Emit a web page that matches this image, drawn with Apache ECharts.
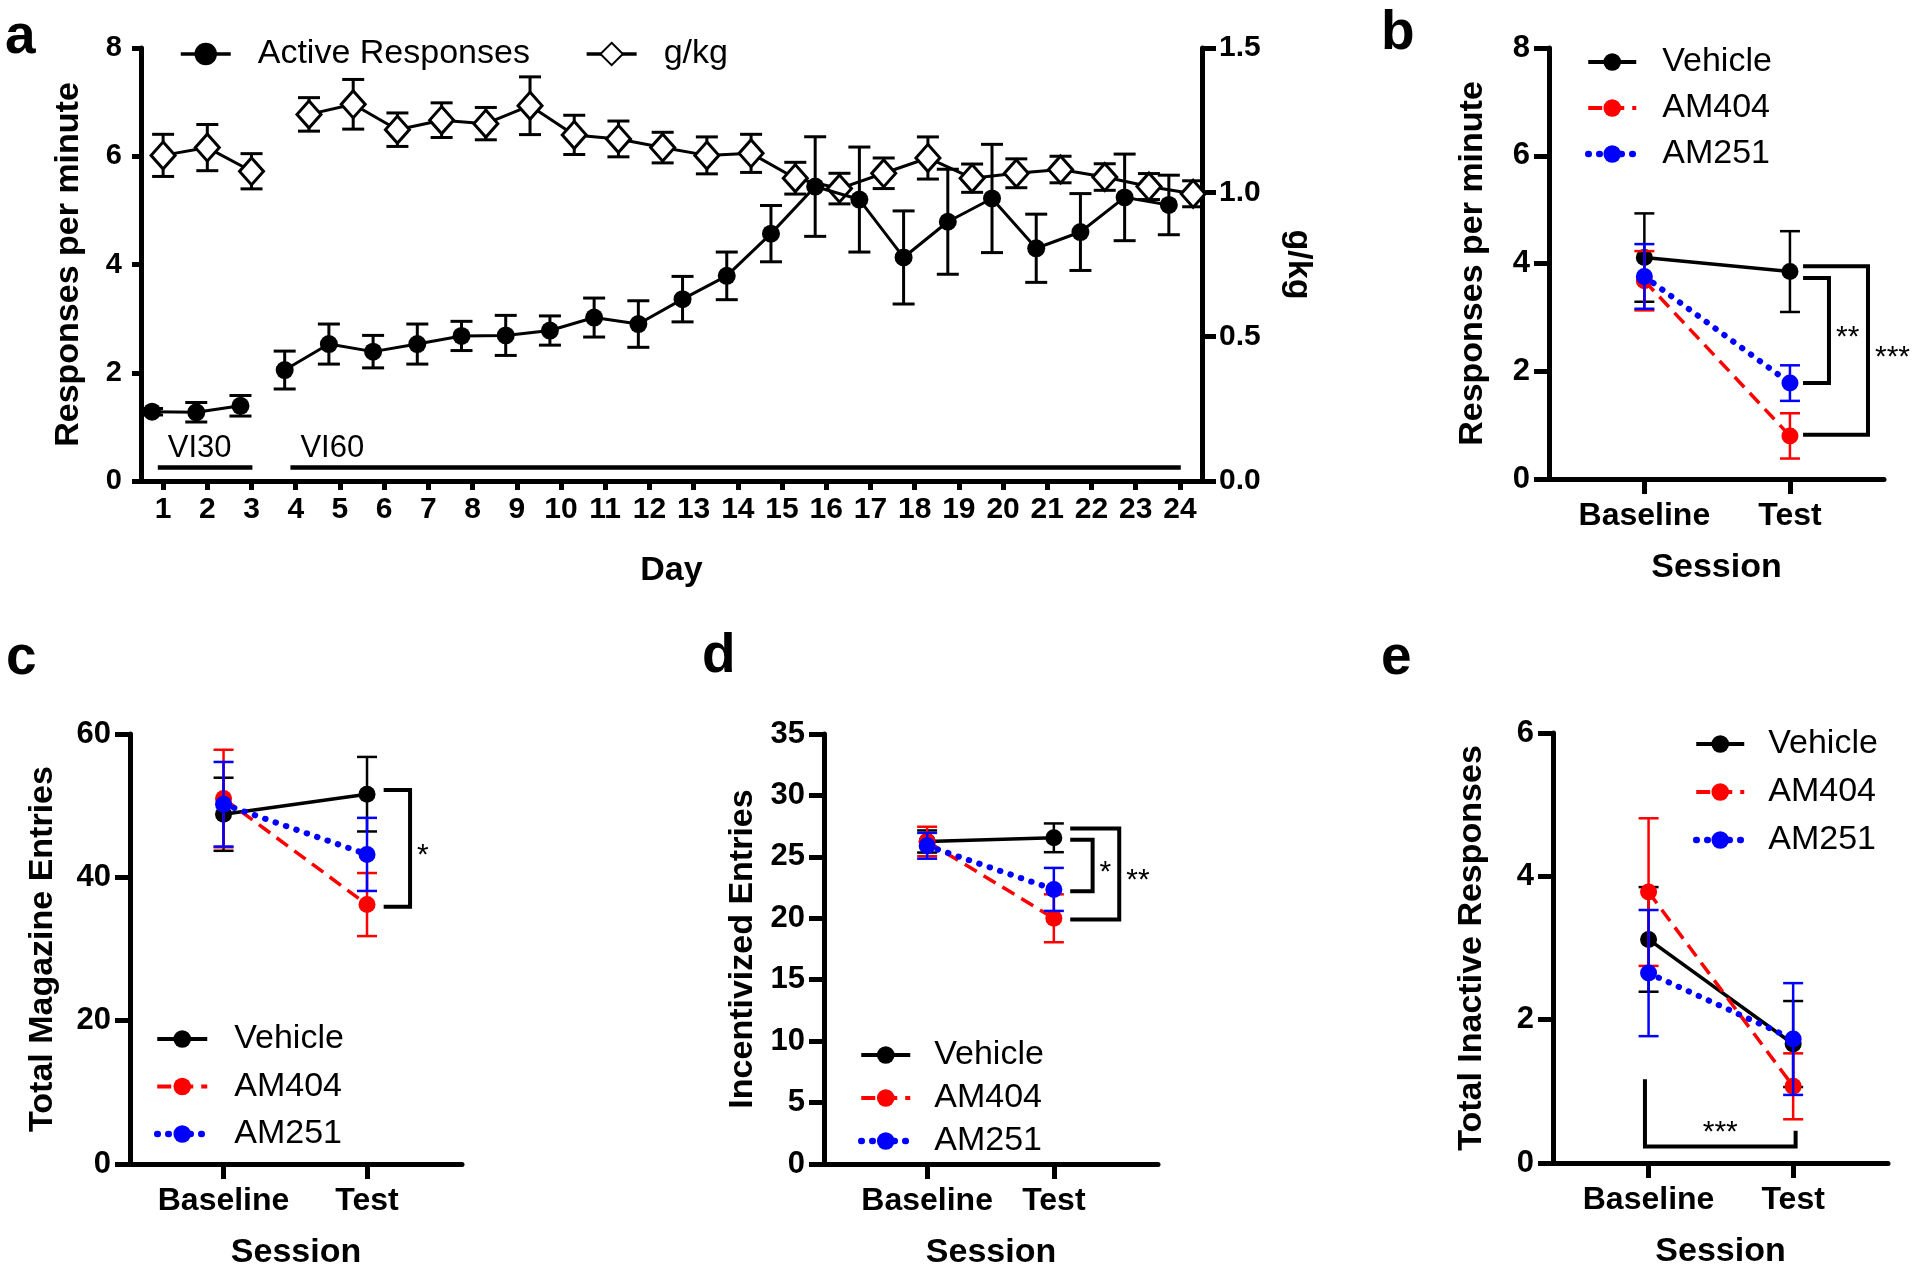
<!DOCTYPE html>
<html>
<head>
<meta charset="utf-8">
<title>Responding, panels a-e</title>
<script src="https://cdn.jsdelivr.net/npm/echarts@6/dist/echarts.min.js"></script>
<style>
html, body {margin: 0; padding: 0; background: #fff;}
#chart {width: 1920px; height: 1276px;}
</style>
</head>
<body>
<div id="chart"></div>
<script>
// ---- panel a: acquisition over days ----
var days = [1,2,3,4,5,6,7,8,9,10,11,12,13,14,15,16,17,18,19,20,21,22,23,24];
var activeMean = [1.28,1.27,1.39,2.05,2.53,2.39,2.53,2.68,2.69,2.78,3.02,2.90,3.36,3.79,4.57,5.44,5.20,4.13,4.79,5.22,4.30,4.60,5.24,5.10];
var activeSem  = [0.06,0.18,0.19,0.35,0.37,0.30,0.37,0.27,0.37,0.27,0.36,0.43,0.42,0.44,0.52,0.92,0.97,0.86,0.97,1.00,0.63,0.71,0.80,0.55];
var gkgMean = [1.128,1.155,1.073,1.270,1.305,1.217,1.250,1.238,1.300,1.199,1.185,1.155,1.128,1.135,1.049,1.013,1.066,1.119,1.049,1.066,1.079,1.053,1.020,0.995];
var gkgSem  = [0.073,0.080,0.061,0.058,0.086,0.058,0.060,0.056,0.100,0.068,0.062,0.053,0.064,0.066,0.055,0.053,0.053,0.073,0.049,0.050,0.046,0.046,0.045,0.045];
var phaseNames = ['VI30', 'VI60'];
var phaseFirstDay = [1, 4];
var phaseLastDay = [3, 24];

// ---- panels b-e: baseline vs test ----
var sessions = ['Baseline', 'Test'];
var groups = ['Vehicle', 'AM404', 'AM251'];

var bVehicle = [4.11, 3.85], bVehicleSem = [0.82, 0.75];
var bAM404 = [3.68, 0.80],   bAM404Sem = [0.55, 0.42];
var bAM251 = [3.76, 1.78],   bAM251Sem = [0.60, 0.33];
var bSigMark = ['**', '***'];
var bSigHigh = [3.73, 3.95];
var bSigLow = [1.78, 0.82];

var cVehicle = [48.8, 51.6], cVehicleSem = [5.1, 5.2];
var cAM404 = [51.0, 36.2],   cAM404Sem = [6.8, 4.4];
var cAM251 = [50.2, 43.2],   cAM251Sem = [5.9, 5.1];
var cSigMark = ['*'];
var cSigHigh = [52.2];
var cSigLow = [35.9];

var dVehicle = [26.25, 26.55], dVehicleSem = [0.9, 1.17];
var dAM404 = [26.25, 20.0],    dAM404Sem = [1.2, 1.95];
var dAM251 = [25.9, 22.35],    dAM251Sem = [1.05, 1.75];
var dSigMark = ['*', '**'];
var dSigHigh = [26.4, 27.3];
var dSigLow = [22.2, 19.9];

var eVehicle = [3.12, 1.66], eVehicleSem = [0.73, 0.60];
var eAM404 = [3.78, 1.07],   eAM404Sem = [1.03, 0.46];
var eAM251 = [2.65, 1.73],   eAM251Sem = [0.88, 0.78];
var eSigMark = '***';
var eSigArms = [1.17, 0.45];   // arm tops at Baseline / Test
var eSigBase = 0.23;

var FONT = "'Liberation Sans', Arial, Helvetica, sans-serif";
var RED = '#ff0000', BLUE = '#0000ff', BLACK = '#000000';
var groupStyle = {
    Vehicle: {color: BLACK, type: 'solid', width: 3.5, cap: 'butt'},
    AM404: {color: RED, type: [14, 8], width: 3.5, cap: 'butt'},
    AM251: {color: BLUE, type: [0.5, 10.5], width: 6, cap: 'round'}
};
var ACT_SHIFT = -0.25, GKG_SHIFT = 0.3;

function phaseOf(d){
    for (var p = 0; p < phaseNames.length; p++) {
        if (d >= phaseFirstDay[p] && d <= phaseLastDay[p]) return p;
    }
    return -1;
}

function errSeries(xi, yi, pts, color, lw, cap, z){
    return {
        type: 'custom', xAxisIndex: xi, yAxisIndex: yi, z: z, silent: true,
        data: pts, encode: {x: 0, y: 1},
        renderItem: function(params, api){
            var x = api.value(0), y = api.value(1), e = api.value(2);
            var hi = api.coord([x, y + e]), lo = api.coord([x, y - e]);
            var h = cap / 2, st = {stroke: color, lineWidth: lw};
            return {type: 'group', children: [
                {type: 'line', shape: {x1: hi[0], y1: hi[1], x2: lo[0], y2: lo[1]}, style: st},
                {type: 'line', shape: {x1: hi[0] - h, y1: hi[1], x2: hi[0] + h, y2: hi[1]}, style: st},
                {type: 'line', shape: {x1: lo[0] - h, y1: lo[1], x2: lo[0] + h, y2: lo[1]}, style: st}
            ]};
        }
    };
}

function sigSeries(xi, yi, x0, x1s, highs, lows, marks){
    var data = [];
    for (var i = 0; i < marks.length; i++) data.push([x0, highs[i], x1s[i], lows[i]]);
    return {
        type: 'custom', xAxisIndex: xi, yAxisIndex: yi, z: 10, silent: true,
        data: data, encode: {x: 0, y: 1},
        renderItem: function(params, api){
            var a = api.value(0), hi = api.value(1), b = api.value(2), lo = api.value(3);
            var p1 = api.coord([a, hi]), p2 = api.coord([b, hi]), p3 = api.coord([b, lo]), p4 = api.coord([a, lo]);
            return {type: 'group', children: [
                {type: 'polyline', shape: {points: [p1, p2, p3, p4]},
                 style: {stroke: BLACK, lineWidth: 4, fill: 'none', lineJoin: 'miter'}},
                {type: 'text', style: {text: marks[params.dataIndex], x: p2[0] + 7, y: (p2[1] + p3[1]) / 2 + 7,
                 fill: BLACK, font: '30px ' + FONT, align: 'left', verticalAlign: 'middle'}}
            ]};
        }
    };
}

function yAx(grid, min, max, step, name, gap){
    return {
        type: 'value', gridIndex: grid, min: min, max: max, interval: step,
        name: name, nameLocation: 'middle', nameGap: gap, nameRotate: 90,
        nameTextStyle: {fontFamily: FONT, fontWeight: 'bold', fontSize: 34, color: BLACK},
        axisLine: {show: true, onZero: false, lineStyle: {color: BLACK, width: 5}},
        axisTick: {show: true, length: 15, lineStyle: {color: BLACK, width: 5}},
        axisLabel: {fontFamily: FONT, fontWeight: 'bold', fontSize: 31, color: BLACK, margin: 19},
        splitLine: {show: false}
    };
}

function xSess(grid, min, max){
    return {
        type: 'value', gridIndex: grid, min: min, max: max,
        name: 'Session', nameLocation: 'middle', nameGap: 72,
        nameTextStyle: {fontFamily: FONT, fontWeight: 'bold', fontSize: 34, color: BLACK},
        axisLine: {show: true, onZero: false, lineStyle: {color: BLACK, width: 5}},
        axisTick: {show: true, customValues: [0, 1], length: 15, lineStyle: {color: BLACK, width: 5}},
        axisLabel: {customValues: [0, 1], formatter: function(v){ return sessions[Math.round(v)]; },
            fontFamily: FONT, fontWeight: 'bold', fontSize: 32, color: BLACK, margin: 21},
        splitLine: {show: false}
    };
}

// legend entries carry their own line look so the icons match the plot lines
function legendItems(names){
    return names.map(function(n){
        if (groupStyle[n]) {
            var st = groupStyle[n];
            return {name: n, lineStyle: {color: st.color, width: st.width + 0.5, type: st.type, cap: st.cap}};
        }
        return {name: n, lineStyle: {color: BLACK, width: 3.5, type: 'solid'}};
    });
}

function legendAt(left, top, gap, pad, orient, width, h){
    return {
        left: left, top: top, orient: orient, itemGap: gap, itemWidth: width, itemHeight: h,
        selectedMode: false,
        data: legendItems(orient === 'vertical' ? groups : ['Active Responses', 'g/kg']),
        textStyle: {fontFamily: FONT, fontSize: 34, color: BLACK, lineHeight: 40, padding: [0, 0, 0, pad]}
    };
}

var series = [];

// panel a
var actPts = [], gkgPts = [];
days.forEach(function(d, i){
    var p = phaseOf(d);
    actPts.push([d + ACT_SHIFT, activeMean[i], activeSem[i], p]);
    gkgPts.push([d + (p > 0 ? GKG_SHIFT : 0), gkgMean[i], gkgSem[i], p]);
});
series.push(errSeries(0, 1, gkgPts, BLACK, 3, 22, 2));
series.push(errSeries(0, 0, actPts, BLACK, 3, 22, 4));
phaseNames.forEach(function(nm, p){
    series.push({
        type: 'line', name: 'g/kg', xAxisIndex: 0, yAxisIndex: 1, z: 3,
        data: gkgPts.filter(function(q){ return q[3] === p; }).map(function(q){ return [q[0], q[1]]; }),
        symbol: 'diamond', symbolSize: [24, 27],
        itemStyle: {color: '#ffffff', borderColor: BLACK, borderWidth: 3},
        lineStyle: {color: BLACK, width: 3}
    });
    series.push({
        type: 'line', name: 'Active Responses', xAxisIndex: 0, yAxisIndex: 0, z: 5,
        data: actPts.filter(function(q){ return q[3] === p; }).map(function(q){ return [q[0], q[1]]; }),
        symbol: 'circle', symbolSize: 18,
        itemStyle: {color: BLACK},
        lineStyle: {color: BLACK, width: 3}
    });
});
// schedule bars under the curves
series.push({
    type: 'custom', xAxisIndex: 0, yAxisIndex: 0, z: 6, silent: true,
    data: phaseNames.map(function(nm, p){ return [phaseFirstDay[p] - 0.12, phaseLastDay[p] + 0.02]; }),
    encode: {x: 0},
    renderItem: function(params, api){
        var s = api.value(0), e = api.value(1);
        var p0 = api.coord([s, 0.25]), p1 = api.coord([e, 0.25]), t = api.coord([s, 0.6]);
        return {type: 'group', children: [
            {type: 'line', shape: {x1: p0[0], y1: p0[1], x2: p1[0], y2: p1[1]}, style: {stroke: BLACK, lineWidth: 4.5}},
            {type: 'text', style: {text: phaseNames[params.dataIndex], x: p0[0] + 10, y: t[1],
             fill: BLACK, font: '31px ' + FONT, align: 'left', verticalAlign: 'middle'}}
        ]};
    }
});

// panels b-e
var panels = [
    {x: 1, y: 2, mean: [bVehicle, bAM404, bAM251], sem: [bVehicleSem, bAM404Sem, bAM251Sem]},
    {x: 2, y: 3, mean: [cVehicle, cAM404, cAM251], sem: [cVehicleSem, cAM404Sem, cAM251Sem]},
    {x: 3, y: 4, mean: [dVehicle, dAM404, dAM251], sem: [dVehicleSem, dAM404Sem, dAM251Sem]},
    {x: 4, y: 5, mean: [eVehicle, eAM404, eAM251], sem: [eVehicleSem, eAM404Sem, eAM251Sem]}
];
panels.forEach(function(pn){
    groups.forEach(function(g, gi){
        var st = groupStyle[g];
        var m = pn.mean[gi], s = pn.sem[gi];
        series.push(errSeries(pn.x, pn.y, m.map(function(v, i){ return [i, v, s[i]]; }), st.color, 2.5, 20, 2 + gi * 2));
        series.push({
            type: 'line', name: g, xAxisIndex: pn.x, yAxisIndex: pn.y, z: 3 + gi * 2,
            data: m.map(function(v, i){ return [i, v]; }),
            symbol: 'circle', symbolSize: 17,
            itemStyle: {color: st.color},
            lineStyle: {color: st.color, width: st.width, type: st.type, cap: st.cap}
        });
    });
});
series.push(sigSeries(1, 2, 1.09, [1.268, 1.536], bSigHigh, bSigLow, bSigMark));
series.push(sigSeries(2, 3, 1.116, [1.30], cSigHigh, cSigLow, cSigMark));
series.push(sigSeries(3, 4, 1.129, [1.306, 1.516], dSigHigh, dSigLow, dSigMark));
series.push({
    type: 'custom', xAxisIndex: 4, yAxisIndex: 5, z: 10, silent: true,
    data: [[-0.025, eSigArms[0], 1.017, eSigArms[1]]], encode: {x: 0, y: 1},
    renderItem: function(params, api){
        var a = api.value(0), b = api.value(2);
        var p1 = api.coord([a, api.value(1)]), p2 = api.coord([a, eSigBase]),
            p3 = api.coord([b, eSigBase]), p4 = api.coord([b, api.value(3)]);
        return {type: 'group', children: [
            {type: 'polyline', shape: {points: [p1, p2, p3, p4]},
             style: {stroke: BLACK, lineWidth: 4, fill: 'none', lineJoin: 'miter'}},
            {type: 'text', style: {text: eSigMark, x: (p2[0] + p3[0]) / 2, y: p2[1] - 21 + 7,
             fill: BLACK, font: '30px ' + FONT, align: 'center', verticalAlign: 'middle'}}
        ]};
    }
});

var xA = {
    type: 'value', gridIndex: 0, min: 0.5, max: 24.5,
    name: 'Day', nameLocation: 'middle', nameGap: 73,
    nameTextStyle: {fontFamily: FONT, fontWeight: 'bold', fontSize: 34, color: BLACK},
    axisLine: {show: true, onZero: false, lineStyle: {color: BLACK, width: 5}},
    axisTick: {show: true, customValues: days, length: 9, lineStyle: {color: BLACK, width: 5}},
    axisLabel: {customValues: days, fontFamily: FONT, fontWeight: 'bold', fontSize: 30, color: BLACK, margin: 14},
    splitLine: {show: false}
};
var yA = yAx(0, 0, 8, 2, 'Responses per minute', 55);
yA.axisTick.length = 9;
yA.axisLabel.fontSize = 29;
var yA2 = yAx(0, 0, 1.5, 0.5, 'g/kg', 79);
yA2.position = 'right';
yA2.nameRotate = -90;
yA2.axisTick.length = 14;
yA2.axisLabel.margin = 17;
yA2.axisLabel.fontSize = 30;
yA2.axisLabel.formatter = function(v){ return v.toFixed(1); };

var letters = [['a', 5, 38], ['b', 1381, 34], ['c', 6, 659], ['d', 702, 657], ['e', 1381, 659]];

var option = {
    animation: false,
    backgroundColor: '#ffffff',
    grid: [
        {left: 141, top: 48, width: 1061, height: 433},
        {left: 1549, top: 48, width: 335, height: 431},
        {left: 130, top: 734, width: 332, height: 430},
        {left: 824, top: 734, width: 334, height: 430},
        {left: 1553, top: 733, width: 335, height: 430}
    ],
    xAxis: [xA, xSess(1, -0.655, 1.646), xSess(2, -0.652, 1.662), xSess(3, -0.814, 1.822), xSess(4, -0.661, 1.656)],
    yAxis: [yA, yA2,
        yAx(1, 0, 8, 2, 'Responses per minute', 59),
        yAx(2, 0, 60, 20, 'Total Magazine Entries', 70),
        yAx(3, 0, 35, 5, 'Incentivized Entries', 64),
        yAx(4, 0, 6, 2, 'Total Inactive Responses', 64)],
    legend: [
        legendAt(174, 29, 55, 22, 'horizontal', 50, 28),
        legendAt(1580, 37, 6, 21, 'vertical', 48, 22),
        legendAt(149, 1014, 7.5, 22, 'vertical', 50, 22),
        legendAt(853, 1030, 3, 19, 'vertical', 49, 22),
        legendAt(1688, 719, 8, 19, 'vertical', 48, 22)
    ],
    graphic: {elements: letters.map(function(l){
        return {type: 'text', style: {text: l[0], x: l[1], y: l[2], fill: BLACK,
            font: 'bold 55px ' + FONT, align: 'left', verticalAlign: 'middle'}};
    })},
    series: series
};

var myChart = echarts.init(document.getElementById('chart'));
myChart.setOption(option);
</script>
</body>
</html>
